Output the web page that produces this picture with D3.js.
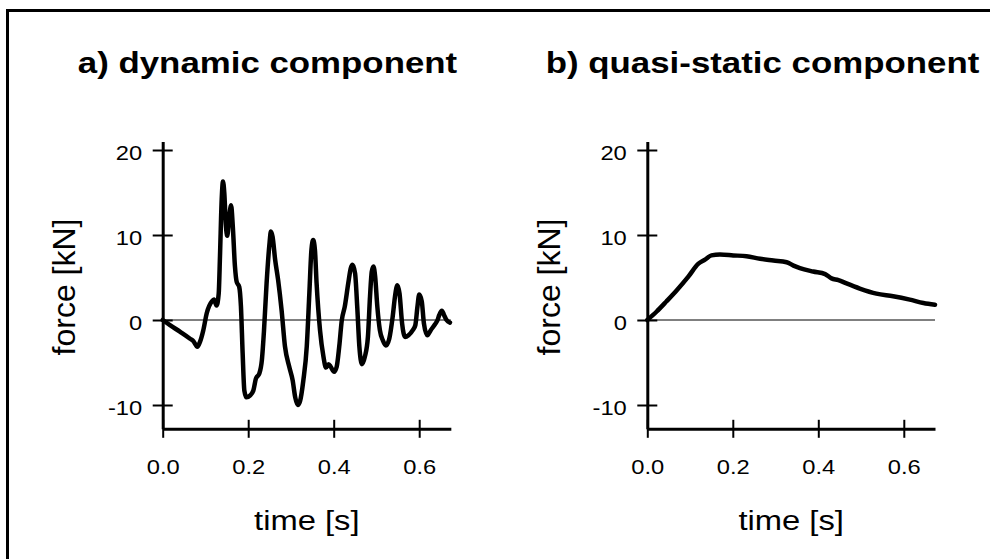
<!DOCTYPE html>
<html>
<head>
<meta charset="utf-8">
<script src="https://cdn.jsdelivr.net/npm/d3@7"></script>
<style>
  body { margin: 0; background: #fff; }
  svg { display: block; }
  text { font-family: "Liberation Sans", Arial, Helvetica, sans-serif; fill: #000; }
</style>
</head>
<body>
<svg id="chart"></svg>
<script>
// dynamic component: time [s] / force [kN]
const tDyn = [0, 0.017, 0.041, 0.064, 0.072, 0.081, 0.087, 0.095, 0.103, 0.115, 0.12, 0.126, 0.131, 0.134, 0.138, 0.141,
  0.144, 0.148, 0.151, 0.155, 0.16, 0.164, 0.169, 0.173, 0.179, 0.183, 0.187, 0.191, 0.196, 0.204, 0.212, 0.218,
  0.226, 0.232, 0.237, 0.243, 0.25, 0.253, 0.257, 0.263, 0.27, 0.278, 0.286, 0.296, 0.304, 0.31, 0.316, 0.321,
  0.329, 0.337, 0.343, 0.348, 0.352, 0.356, 0.36, 0.368, 0.376, 0.382, 0.388, 0.393, 0.401, 0.407, 0.413, 0.419,
  0.426, 0.434, 0.44, 0.444, 0.45, 0.455, 0.46, 0.466, 0.473, 0.48, 0.485, 0.489, 0.493, 0.497, 0.502, 0.508,
  0.515, 0.522, 0.53, 0.538, 0.544, 0.549, 0.554, 0.56, 0.567, 0.575, 0.585, 0.591, 0.596, 0.6, 0.606, 0.611,
  0.619, 0.627, 0.637, 0.643, 0.647, 0.653, 0.658, 0.664, 0.672];
const fDyn = [0, -0.6, -1.4, -2.2, -2.5, -3.15, -2.6, -1.2, 0.8, 2.2, 2.4, 1.7, 3.1, 7.5, 14.2, 16.3,
  15, 11, 9.9, 11.8, 13.5, 11, 6.3, 4.5, 3.9, 1.6, -3.9, -8.3, -9.1, -8.9, -8.3, -6.9,
  -6.3, -4.7, -1.2, 4.3, 9.1, 10.4, 9.8, 7.1, 4.7, 1.2, -3.1, -5.5, -7.1, -9.1, -10.0, -9.6,
  -7.1, -3.1, 3.1, 8.3, 9.4, 8.3, 4.3, -1.2, -4.3, -5.6, -5.2, -5.5, -6.1, -5.5, -3.1, 0,
  1.6, 4.3, 6.1, 6.5, 5.5, 1.6, -3.1, -5.2, -4.3, -2, 2.8, 5.7, 6.3, 5.1, 1.6, -1.2,
  -2.4, -3.0, -2.2, 0.4, 3.0, 4.1, 3.1, -0.4, -2.0, -1.8, -1.2, -0.6, 1.6, 3.0, 2.2, -0.4,
  -1.8, -1.2, -0.5, 0, 0.6, 1.1, 0.6, 0, -0.3];

// quasi-static component
const tQs = [0, 0.022, 0.045, 0.069, 0.096, 0.119, 0.135, 0.15, 0.17, 0.201, 0.232, 0.264, 0.295, 0.326,
  0.342, 0.357, 0.388, 0.416, 0.431, 0.447, 0.466, 0.497, 0.536, 0.575, 0.614, 0.646, 0.673];
const fQs = [0, 1.0, 2.2, 3.5, 5.1, 6.6, 7.1, 7.6, 7.7, 7.6, 7.5, 7.2, 7.0, 6.8,
  6.4, 6.1, 5.7, 5.4, 4.9, 4.7, 4.3, 3.7, 3.1, 2.8, 2.4, 2.0, 1.8];

const yTicks = [-10, 0, 10, 20];
const xTicks = [0, 0.2, 0.4, 0.6];
const titles = ["a) dynamic component", "b) quasi-static component"];
const xLabel = "time [s]";
const yLabel = "force [kN]";

const width = 990, height = 559;
const svg = d3.select("#chart").attr("width", width).attr("height", height);

// outer frame (runs off the right and bottom edge)
svg.append("path")
  .attr("d", "M7.5,559 V10.5 H990")
  .attr("fill", "none").attr("stroke", "#000").attr("stroke-width", 3);

const panels = [
  { t: tDyn, f: fDyn, left: 162.7, tMax: 0.674, title: titles[0], titleX: 267.5, yLabX: 75 },
  { t: tQs, f: fQs, left: 647.3, tMax: 0.673, title: titles[1], titleX: 762.5, yLabX: 560 }
];

const pxPerSec = 427.5;

panels.forEach(p => {
  const x = d3.scaleLinear().domain([0, p.tMax]).range([p.left, p.left + p.tMax * pxPerSec]);
  const y = d3.scaleLinear().domain([-12.8, 21]).range([428.8, 141.5]);
  const g = svg.append("g");

  // zero line
  g.append("line")
    .attr("x1", x(0)).attr("x2", x(p.tMax))
    .attr("y1", y(0)).attr("y2", y(0))
    .attr("stroke", "#000").attr("stroke-width", 1);

  // x axis
  const gx = g.append("g")
    .attr("transform", `translate(0,${y.range()[0]})`)
    .call(d3.axisBottom(x).tickValues(xTicks).tickFormat(d3.format(".1f")).tickSizeOuter(0));
  gx.select(".domain").attr("stroke-width", 3);
  gx.selectAll(".tick line").attr("y1", -9).attr("y2", 9).attr("stroke-width", 2);
  gx.selectAll(".tick text")
    .attr("y", 45.5).attr("dy", 0)
    .attr("font-size", 21)
    .attr("transform", "scale(1.13,1)");

  // y axis (plain hyphen for negatives, as in the original)
  const gy = g.append("g")
    .attr("transform", `translate(${x(0)},0)`)
    .call(d3.axisLeft(y).tickValues(yTicks).tickFormat(d => String(d)).tickSizeOuter(0));
  gy.select(".domain").attr("stroke-width", 3);
  gy.selectAll(".tick line").attr("x1", -10).attr("x2", 10).attr("stroke-width", 2);
  gy.selectAll(".tick text")
    .attr("x", -20.5 / 1.13).attr("dy", "0.43em")
    .attr("font-size", 21)
    .attr("transform", "scale(1.13,1)");
  g.selectAll("g").attr("font-family", null);

  // data line
  g.append("path")
    .datum(d3.zip(p.t, p.f))
    .attr("fill", "none")
    .attr("stroke", "#000")
    .attr("stroke-width", 4.5)
    .attr("stroke-linejoin", "round")
    .attr("stroke-linecap", "round")
    .attr("d", d3.line().x(d => x(d[0])).y(d => y(d[1])).curve(d3.curveMonotoneX));

  // title
  g.append("text")
    .attr("transform", `translate(${p.titleX},73) scale(1.21,1)`)
    .attr("text-anchor", "middle")
    .attr("font-size", 28.8)
    .attr("font-weight", "bold")
    .text(p.title);

  // axis titles
  g.append("text")
    .attr("transform", `translate(${(x.range()[0] + x.range()[1]) / 2},530) scale(1.19,1)`)
    .attr("text-anchor", "middle")
    .attr("font-size", 27.5)
    .text(xLabel);

  g.append("text")
    .attr("transform", `translate(${p.yLabX},287) rotate(-90)`)
    .attr("text-anchor", "middle")
    .attr("font-size", 32)
    .text(yLabel);
});
</script>
</body>
</html>
